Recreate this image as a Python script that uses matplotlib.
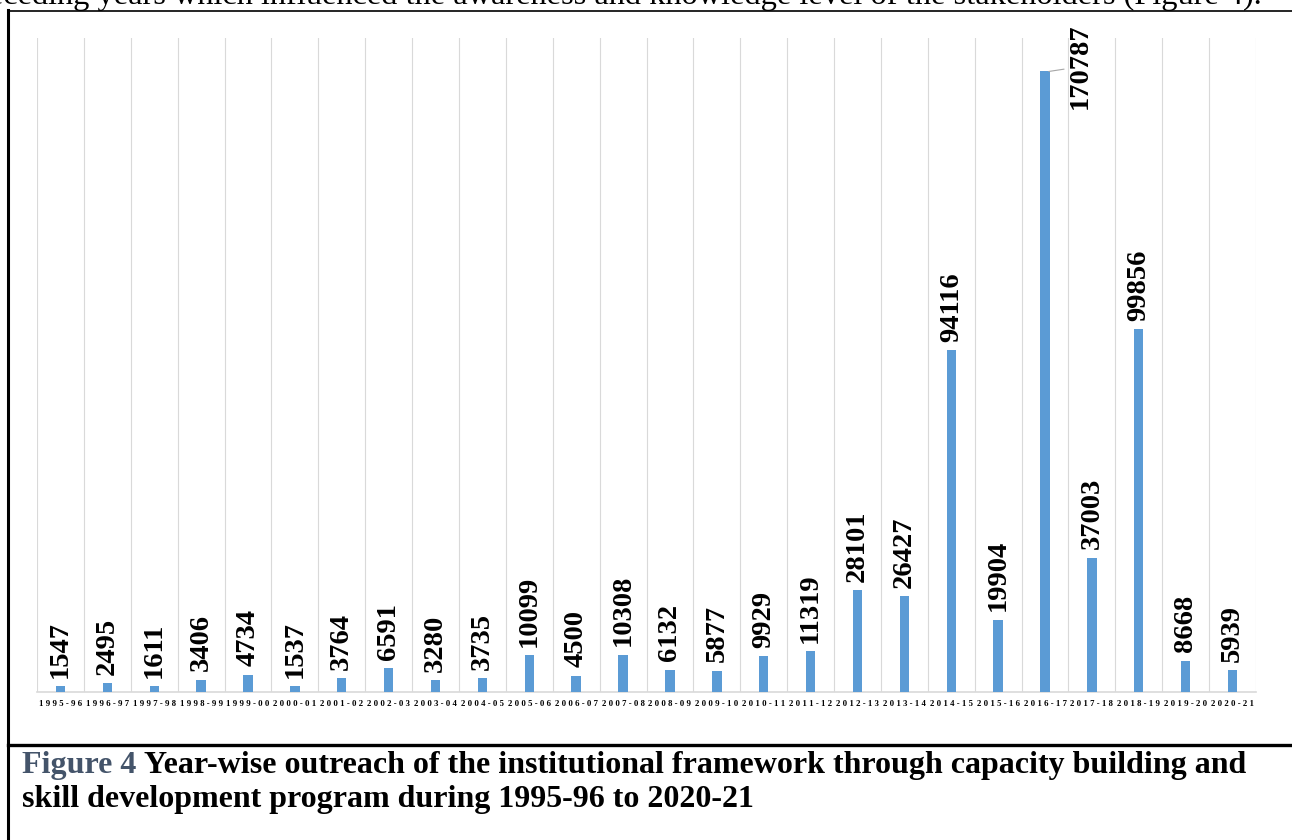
import matplotlib.pyplot as plt
from matplotlib.lines import Line2D

# Data
years = ['1995-96', '1996-97', '1997-98', '1998-99', '1999-00', '2000-01',
         '2001-02', '2002-03', '2003-04', '2004-05', '2005-06', '2006-07',
         '2007-08', '2008-09', '2009-10', '2010-11', '2011-12', '2012-13',
         '2013-14', '2014-15', '2015-16', '2016-17', '2017-18', '2018-19',
         '2019-20', '2020-21']
outreach = [1547, 2495, 1611, 3406, 4734, 1537, 3764, 6591, 3280, 3735,
            10099, 4500, 10308, 6132, 5877, 9929, 11319, 28101, 26427,
            94116, 19904, 170787, 37003, 99856, 8668, 5939]

serif = 'Liberation Serif'
W, H = 1292, 840

fig = plt.figure(figsize=(W / 100, H / 100), dpi=100)
ax = fig.add_axes([37 / W, 1 - 692 / H, (1256 - 37) / W, (692 - 38) / H])

x = list(range(len(years)))
ax.bar(x, outreach, width=0.2, color='#5B9BD5', zorder=3)
ax.set_xlim(-0.5, len(years) - 0.5)
ax.set_ylim(0, 180000)

# category gridlines
for b in range(len(years) + 1):
    ax.axvline(b - 0.5, color='#D9D9D9', lw=0.8, zorder=1)

for s in ['top', 'left', 'right']:
    ax.spines[s].set_visible(False)
ax.spines['bottom'].set_color('#D9D9D9')
ax.spines['bottom'].set_linewidth(1.2)
ax.set_yticks([])
ax.set_xticks(x)
ax.set_xticklabels([' '.join(y) for y in years], fontfamily=serif,
                   fontweight='bold', fontsize=6.3)
ax.tick_params(axis='x', length=0, pad=6)

# value labels
for i, v in zip(x, outreach):
    if v == max(outreach):
        ax.annotate(str(v), xy=(i + 0.08, v), xytext=(23, 3.5),
                    textcoords='offset points', rotation=90, ha='center',
                    va='center', fontfamily=serif, fontweight='bold',
                    fontsize=20.5,
                    arrowprops=dict(arrowstyle='-', color='#A6A6A6', lw=0.8,
                                    shrinkA=1, shrinkB=0))
    else:
        ax.annotate(str(v), xy=(i, v), xytext=(0, 6),
                    textcoords='offset points', rotation=90, ha='center',
                    va='bottom', fontfamily=serif, fontweight='bold',
                    fontsize=20.5)

# page text cut at the top
fig.text(1262 / W, 1 - 4 / H,
         'preceding years which influenced the awareness and knowledge level '
         'of the stakeholders (Figure 4).',
         ha='right', va='baseline', fontfamily=serif, fontsize=23.3)

# borders of the figure box
fig.add_artist(Line2D([8 / W, 1], [1 - 10.5 / H] * 2, color='black', lw=1.2))
fig.add_artist(Line2D([8 / W] * 2, [0, 1 - 10 / H], color='black', lw=2.2))
fig.add_artist(Line2D([8 / W, 1], [1 - 744.5 / H] * 2, color='black', lw=2.4))

# caption
cap_kw = dict(fontfamily=serif, fontweight='bold', fontsize=23,
              va='baseline')
t = fig.text(22 / W, 1 - 773 / H, 'Figure 4 ', color='#44546A', **cap_kw)
fig.canvas.draw()
bb = t.get_window_extent()
fig.text(bb.x1 / W, 1 - 773 / H,
         'Year-wise outreach of the institutional framework through capacity '
         'building and', color='black', **cap_kw)
fig.text(22 / W, 1 - 807 / H,
         'skill development program during 1995-96 to 2020-21',
         color='black', **cap_kw)

plt.savefig('out.png', dpi=100)
